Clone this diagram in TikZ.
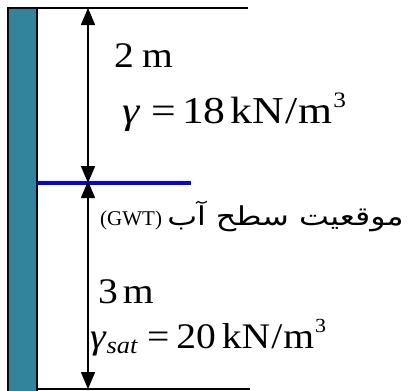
\documentclass[tikz,border=0pt]{standalone}
\usepackage{fontspec}
\setmainfont{Liberation Serif}
\newfontfamily\widefont[FakeStretch=1.1]{Liberation Serif}
\newfontfamily\widerfont[FakeStretch=1.15]{Liberation Serif}
\newfontfamily\arabicfont[Script=Arabic,FakeStretch=1.22]{DejaVu Sans}
\TeXXeTstate=1
\usetikzlibrary{arrows.meta}
\definecolor{wallteal}{RGB}{49,132,155}
\begin{document}
\begin{tikzpicture}[x=1pt,y=-1pt,
  dimarrow/.style={line width=1.8pt,{Triangle[width=14pt,length=17pt]}-{Triangle[width=14pt,length=17pt]}},
  lbl/.style={anchor=base west,inner sep=0pt,font=\widefont\fontsize{36}{38}\selectfont},
  biglbl/.style={anchor=base west,inner sep=0pt,font=\widerfont\fontsize{38}{40}\selectfont},
  edgeline/.style={line width=1.2pt}]
\useasboundingbox (0,0) rectangle (410,391);
\fill[wallteal] (8,8) rectangle (37,395);
\draw[edgeline] (8,395) -- (8,8) -- (248,8);
\draw[edgeline] (37,8) -- (37,395);
\coordinate (top) at (88,8);
\coordinate (gwt) at (88,182);
\coordinate (bot) at (88,389);
\coordinate (bl) at (38,389);
\coordinate (br) at (250,389);
\draw[edgeline] (bl) -- (br);
\draw[line width=4pt,blue] (37,182.5) -- (191,182.5);
\draw[dimarrow] (top) -- ([yshift=-1pt]gwt);
\draw[dimarrow] ([yshift=1pt]gwt) -- (bot);
\node[lbl] (h1) at (114,67) {2\hspace{8pt}m};
\node[biglbl] (g1) at (122,123) {\textit{γ}\hspace{11pt}=\hspace{6pt}18\hspace{5pt}kN\hspace{1pt}/\hspace{1pt}m\hspace{1pt}\raisebox{0.42em}{\fontsize{22}{22}\selectfont 3}};
\node[anchor=base west,inner sep=0pt,font=\fontsize{21}{23}\selectfont] (wt) at (100,225) {\beginR{\arabicfont\fontsize{26}{28}\selectfont موقعيت سطح آب} \beginL(GWT)\endL\endR};
\node[lbl] (h2) at (98,303) {3\hspace{5pt}m};
\node[lbl] (g2) at (90,348) {\textit{γ}\raisebox{-0.15em}{\fontsize{24}{24}\selectfont\textit{sat}}\hspace{9pt}=\hspace{7pt}20\hspace{6pt}kN\hspace{1pt}/\hspace{1pt}m\hspace{1pt}\raisebox{0.42em}{\fontsize{20}{20}\selectfont 3}};
\end{tikzpicture}
\end{document}
